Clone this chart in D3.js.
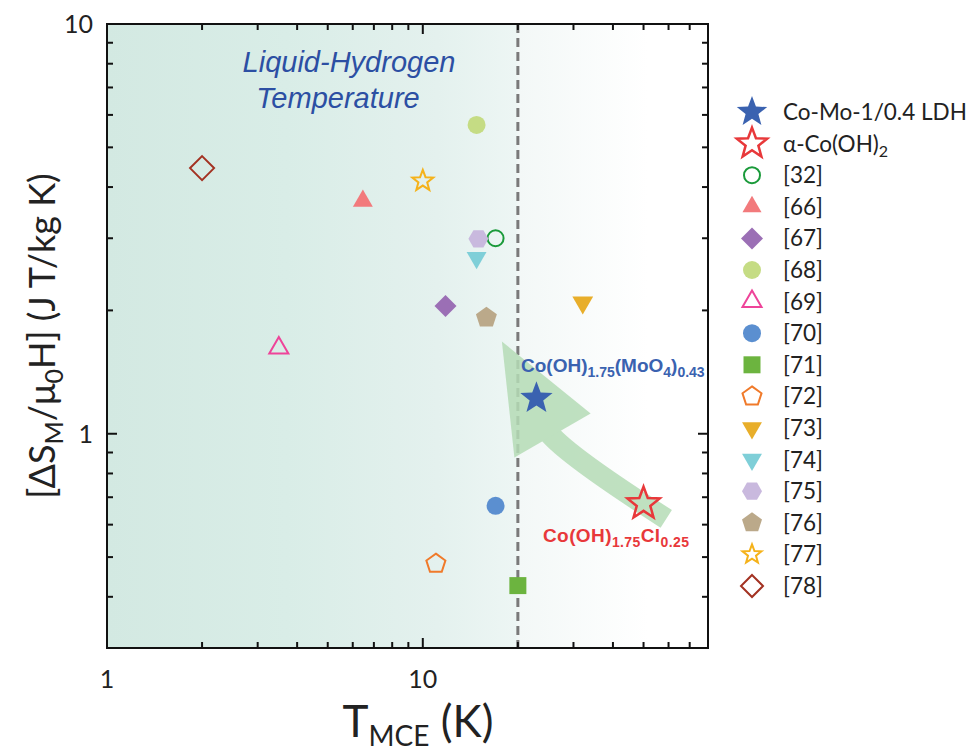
<!DOCTYPE html>
<html><head><meta charset="utf-8">
<script src="https://cdn.jsdelivr.net/npm/d3@7"></script>
<style>body{margin:0;background:#fff}</style>
</head><body>
<svg id="chart" width="971" height="751"></svg>
<script>
// ---- data ----
const seriesNames = ["Co-Mo-1/0.4 LDH","α-Co(OH)2","[32]","[66]","[67]","[68]","[69]","[70]","[71]","[72]","[73]","[74]","[75]","[76]","[77]","[78]"];
const tempK   = [22.9, 50.0, 17.0, 6.46, 11.8, 14.8, 3.50, 17.0, 20.0, 11.0, 32.1, 14.8, 15.0, 15.9, 10.0, 2.0];
const dsmPerH = [1.22, 0.675, 3.0, 3.70, 2.05, 5.67, 1.62, 0.667, 0.426, 0.482, 2.09, 2.69, 2.99, 1.92, 4.14, 4.45];
const xTickValues = [1, 10];
const xTickLabels = ["1", "10"];
const yTickValues = [1, 10];
const yTickLabels = ["1", "10"];
const liquidH2Temp = [20];
// arrow annotation (data coords: T, dS)
const arrowTail = [59.0, 0.62];
const arrowCtrl = [29.0, 0.88];
const arrowBase = [25.2, 1.0];
const arrowHead = [[17.8, 1.68], [19.5, 0.875], [34.0, 1.12]];

// ---- styles ----
const shapes = ["star","star","circle","triUp","diamond","circle","triUp","circle","square","pentagon","triDown","triDown","hexagon","pentagon","star","diamond"];
const colors = ["#3a62b0","#e8383a","#1a9a3a","#f27a7c","#9b6fb5","#c5dc84","#ee4499","#5b8fd0","#6cb43f","#f07a2a","#e8ae2a","#7fcfd8","#c9b9de","#bba98a","#f5b21a","#a33222"];
const filled = [true,false,false,true,true,true,false,true,true,false,true,true,true,true,false,false];
const plotR  = [17,17,8,11.5,11,9,11,9,8.5,10,12,11.5,10,11,11,12];
const legR   = [16,16,8,11,11,9,11,9,8.5,10,11.5,11.5,10,10.5,10,11];

const W = 971, H = 751;
const M = {left:107, right:708, top:24, bottom:648};
const svg = d3.select("#chart");

const x = d3.scaleLog().domain([1, 80]).range([M.left, M.right]);
const y = d3.scaleLog().domain([0.3, 10]).range([M.bottom, M.top]);

// custom symbol types (size = r^2)
function polyType(n, rot){
  return {draw(ctx, s){ const r=Math.sqrt(s);
    for(let i=0;i<n;i++){ const a=rot+i*2*Math.PI/n; const px=r*Math.sin(a), py=-r*Math.cos(a);
      if(i===0) ctx.moveTo(px,py); else ctx.lineTo(px,py);} ctx.closePath(); }};
}
const starType = {draw(ctx, s){ const r=Math.sqrt(s), ri=r*0.42;
  for(let i=0;i<10;i++){ const a=i*Math.PI/5; const rr=i%2?ri:r; const px=rr*Math.sin(a), py=-rr*Math.cos(a);
    if(i===0) ctx.moveTo(px,py); else ctx.lineTo(px,py);} ctx.closePath(); }};
const circleType = {draw(ctx, s){ const r=Math.sqrt(s); ctx.moveTo(r,0); ctx.arc(0,0,r,0,2*Math.PI); ctx.closePath(); }};
const squareType = {draw(ctx, s){ const r=Math.sqrt(s); ctx.rect(-r,-r,2*r,2*r); }};
const types = {
  star: starType, circle: circleType, square: squareType,
  triUp: polyType(3,0), triDown: polyType(3,Math.PI), diamond: polyType(4,0),
  pentagon: polyType(5,0), hexagon: polyType(6,Math.PI/6)
};
const sym = (shape, r) => d3.symbol().type(types[shape]).size(r*r)();

// ---- background gradient ----
const defs = svg.append("defs");
const grad = defs.append("linearGradient").attr("id","bg").attr("gradientUnits","userSpaceOnUse")
  .attr("x1", x(1)).attr("x2", x(80)).attr("y1",0).attr("y2",0);
[[0,"#d3e9e2"],[0.3,"#d9ede7"],[0.55,"#e4f1ee"],[0.68,"#edf6f4"],[0.685,"#f3f8f7"],[0.9,"#ffffff"],[1,"#ffffff"]]
  .forEach(([o,c])=>grad.append("stop").attr("offset",o).attr("stop-color",c));
svg.append("rect").attr("x",M.left).attr("y",M.top).attr("width",M.right-M.left).attr("height",M.bottom-M.top).attr("fill","url(#bg)");

// ---- dashed line at liquid hydrogen temperature ----
svg.selectAll(".lh").data(liquidH2Temp).enter().append("line")
  .attr("x1",d=>x(d)).attr("x2",d=>x(d)).attr("y1",M.top).attr("y2",M.bottom)
  .attr("stroke","#7a7a7a").attr("stroke-width",3).attr("stroke-dasharray","9,5");

// ---- arrow ----
const arrowG = svg.append("g").attr("opacity",0.85);
const p = d3.path();
p.moveTo(x(arrowTail[0]), y(arrowTail[1]));
p.quadraticCurveTo(x(arrowCtrl[0]), y(arrowCtrl[1]), x(arrowBase[0]), y(arrowBase[1]));
arrowG.append("path").attr("d", p.toString()).attr("fill","none").attr("stroke","#b5dcb6").attr("stroke-width",21);
arrowG.append("path").attr("d", d3.line().x(d=>x(d[0])).y(d=>y(d[1]))(arrowHead) + "Z").attr("fill","#b5dcb6");

// ---- axes frame and ticks ----
const frame = svg.append("g");
const xMinor = [], yMinor = [];
for (let dec of [1,10]) for (let k=2;k<=9;k++){ const v=dec*k; if(v<=80) xMinor.push(v); }
for (let dec of [0.1,1]) for (let k=1;k<=9;k++){ const v=+(dec*k).toFixed(2); if(v>0.3 && v<10 && v!==1) yMinor.push(v); }
const tickLen = {major:10, minor:6};
function hTicks(vals, len){
  vals.forEach(v=>{
    frame.append("line").attr("x1",x(v)).attr("x2",x(v)).attr("y1",M.bottom).attr("y2",M.bottom-len).attr("stroke","#111").attr("stroke-width",2);
    frame.append("line").attr("x1",x(v)).attr("x2",x(v)).attr("y1",M.top).attr("y2",M.top+len).attr("stroke","#111").attr("stroke-width",2);
  });
}
function vTicks(vals, len){
  vals.forEach(v=>{
    frame.append("line").attr("y1",y(v)).attr("y2",y(v)).attr("x1",M.left).attr("x2",M.left+len).attr("stroke","#111").attr("stroke-width",2);
    frame.append("line").attr("y1",y(v)).attr("y2",y(v)).attr("x1",M.right).attr("x2",M.right-len).attr("stroke","#111").attr("stroke-width",2);
  });
}
hTicks(xMinor, tickLen.minor); hTicks(xTickValues, tickLen.major);
vTicks(yMinor, tickLen.minor); vTicks(yTickValues, tickLen.major);
frame.append("rect").attr("x",M.left).attr("y",M.top).attr("width",M.right-M.left).attr("height",M.bottom-M.top)
  .attr("fill","none").attr("stroke","#111").attr("stroke-width",2);

const FONT = "Lato, 'Open Sans', sans-serif";
svg.selectAll(".xtl").data(xTickValues).enter().append("text")
  .attr("x",d=>x(d)).attr("y",688).attr("text-anchor","middle").attr("font-family",FONT).attr("font-size",25).attr("fill","#222")
  .text((d,i)=>xTickLabels[i]);
svg.selectAll(".ytl").data(yTickValues).enter().append("text")
  .attr("x",93).attr("y",d=>y(d)+9).attr("text-anchor","end").attr("font-family",FONT).attr("font-size",25).attr("fill","#222")
  .text((d,i)=>yTickLabels[i]);

function rich(t, parts, subSize, shift){
  let down = false;
  parts.forEach(([s,sub])=>{
    const ts = t.append("tspan").text(s);
    if(sub && !down){ ts.attr("font-size",subSize).attr("dy",shift); down=true; }
    else if(!sub && down){ ts.attr("dy",-shift); down=false; }
  });
}
// axis titles
const xt = svg.append("text").attr("x",418).attr("y",737).attr("text-anchor","middle").attr("font-family",FONT).attr("font-size",44).attr("fill","#222");
rich(xt, [["T",false],["MCE",true],[" (K)",false]], 28, 9);
const yt = svg.append("text").attr("transform","translate(55,336) rotate(-90)").attr("text-anchor","middle").attr("font-family",FONT).attr("font-size",36).attr("fill","#222");
rich(yt, [["[ΔS",false],["M",true],["/μ",false],["0",true],["H] (J T/kg K)",false]], 25, 8);

// annotation texts
const AF = "'Liberation Sans', Arial, sans-serif";
svg.append("text").attr("x",349).attr("y",72).attr("text-anchor","middle").attr("font-family",AF).attr("font-style","italic").attr("font-size",29).attr("fill","#2c4fa3").text("Liquid-Hydrogen");
svg.append("text").attr("x",338).attr("y",108).attr("text-anchor","middle").attr("font-family",AF).attr("font-style","italic").attr("font-size",29).attr("fill","#2c4fa3").text("Temperature");
const a1 = svg.append("text").attr("x",521).attr("y",372).attr("font-family",AF).attr("font-weight","bold").attr("font-size",19).attr("fill","#3a62b0");
rich(a1, [["Co(OH)",false],["1.75",true],["(MoO",false],["4",true],[")",false],["0.43",true]], 14, 5);
const a2 = svg.append("text").attr("x",543).attr("y",542).attr("font-family",AF).attr("font-weight","bold").attr("font-size",19).attr("fill","#e8383a").attr("letter-spacing",0.4);
rich(a2, [["Co(OH)",false],["1.75",true],["Cl",false],["0.25",true]], 14, 5);

// ---- data markers ----
const idx = d3.range(seriesNames.length);
const drawOrder = idx.slice(2).concat([0,1]);
svg.selectAll(".pt").data(drawOrder).enter().append("path")
  .attr("transform", i=>`translate(${x(tempK[i])},${y(dsmPerH[i])})`)
  .attr("d", i=>sym(shapes[i], plotR[i]))
  .attr("fill", i=>filled[i]?colors[i]:"none")
  .attr("stroke", i=>filled[i]?"none":colors[i])
  .attr("stroke-width", i=>i===1?2.5:2)
  .attr("stroke-linejoin","miter");

// ---- legend ----
const legY = d3.scaleLinear().domain([0, seriesNames.length-1]).range([112, 586]);
const leg = svg.append("g");
idx.forEach(i=>{
  leg.append("path").attr("transform",`translate(752,${legY(i)})`).attr("d", sym(shapes[i], legR[i]))
    .attr("fill", filled[i]?colors[i]:"none").attr("stroke", filled[i]?"none":colors[i]).attr("stroke-width", i===1?2.5:2);
  const t = leg.append("text").attr("x",783).attr("y",legY(i)+8).attr("font-family",FONT).attr("font-size",22.5).attr("fill","#222");
  if(i===1) rich(t, [["α-Co(OH)",false],["2",true]], 16, 5);
  else t.text(seriesNames[i]);
});
</script>
</body></html>
